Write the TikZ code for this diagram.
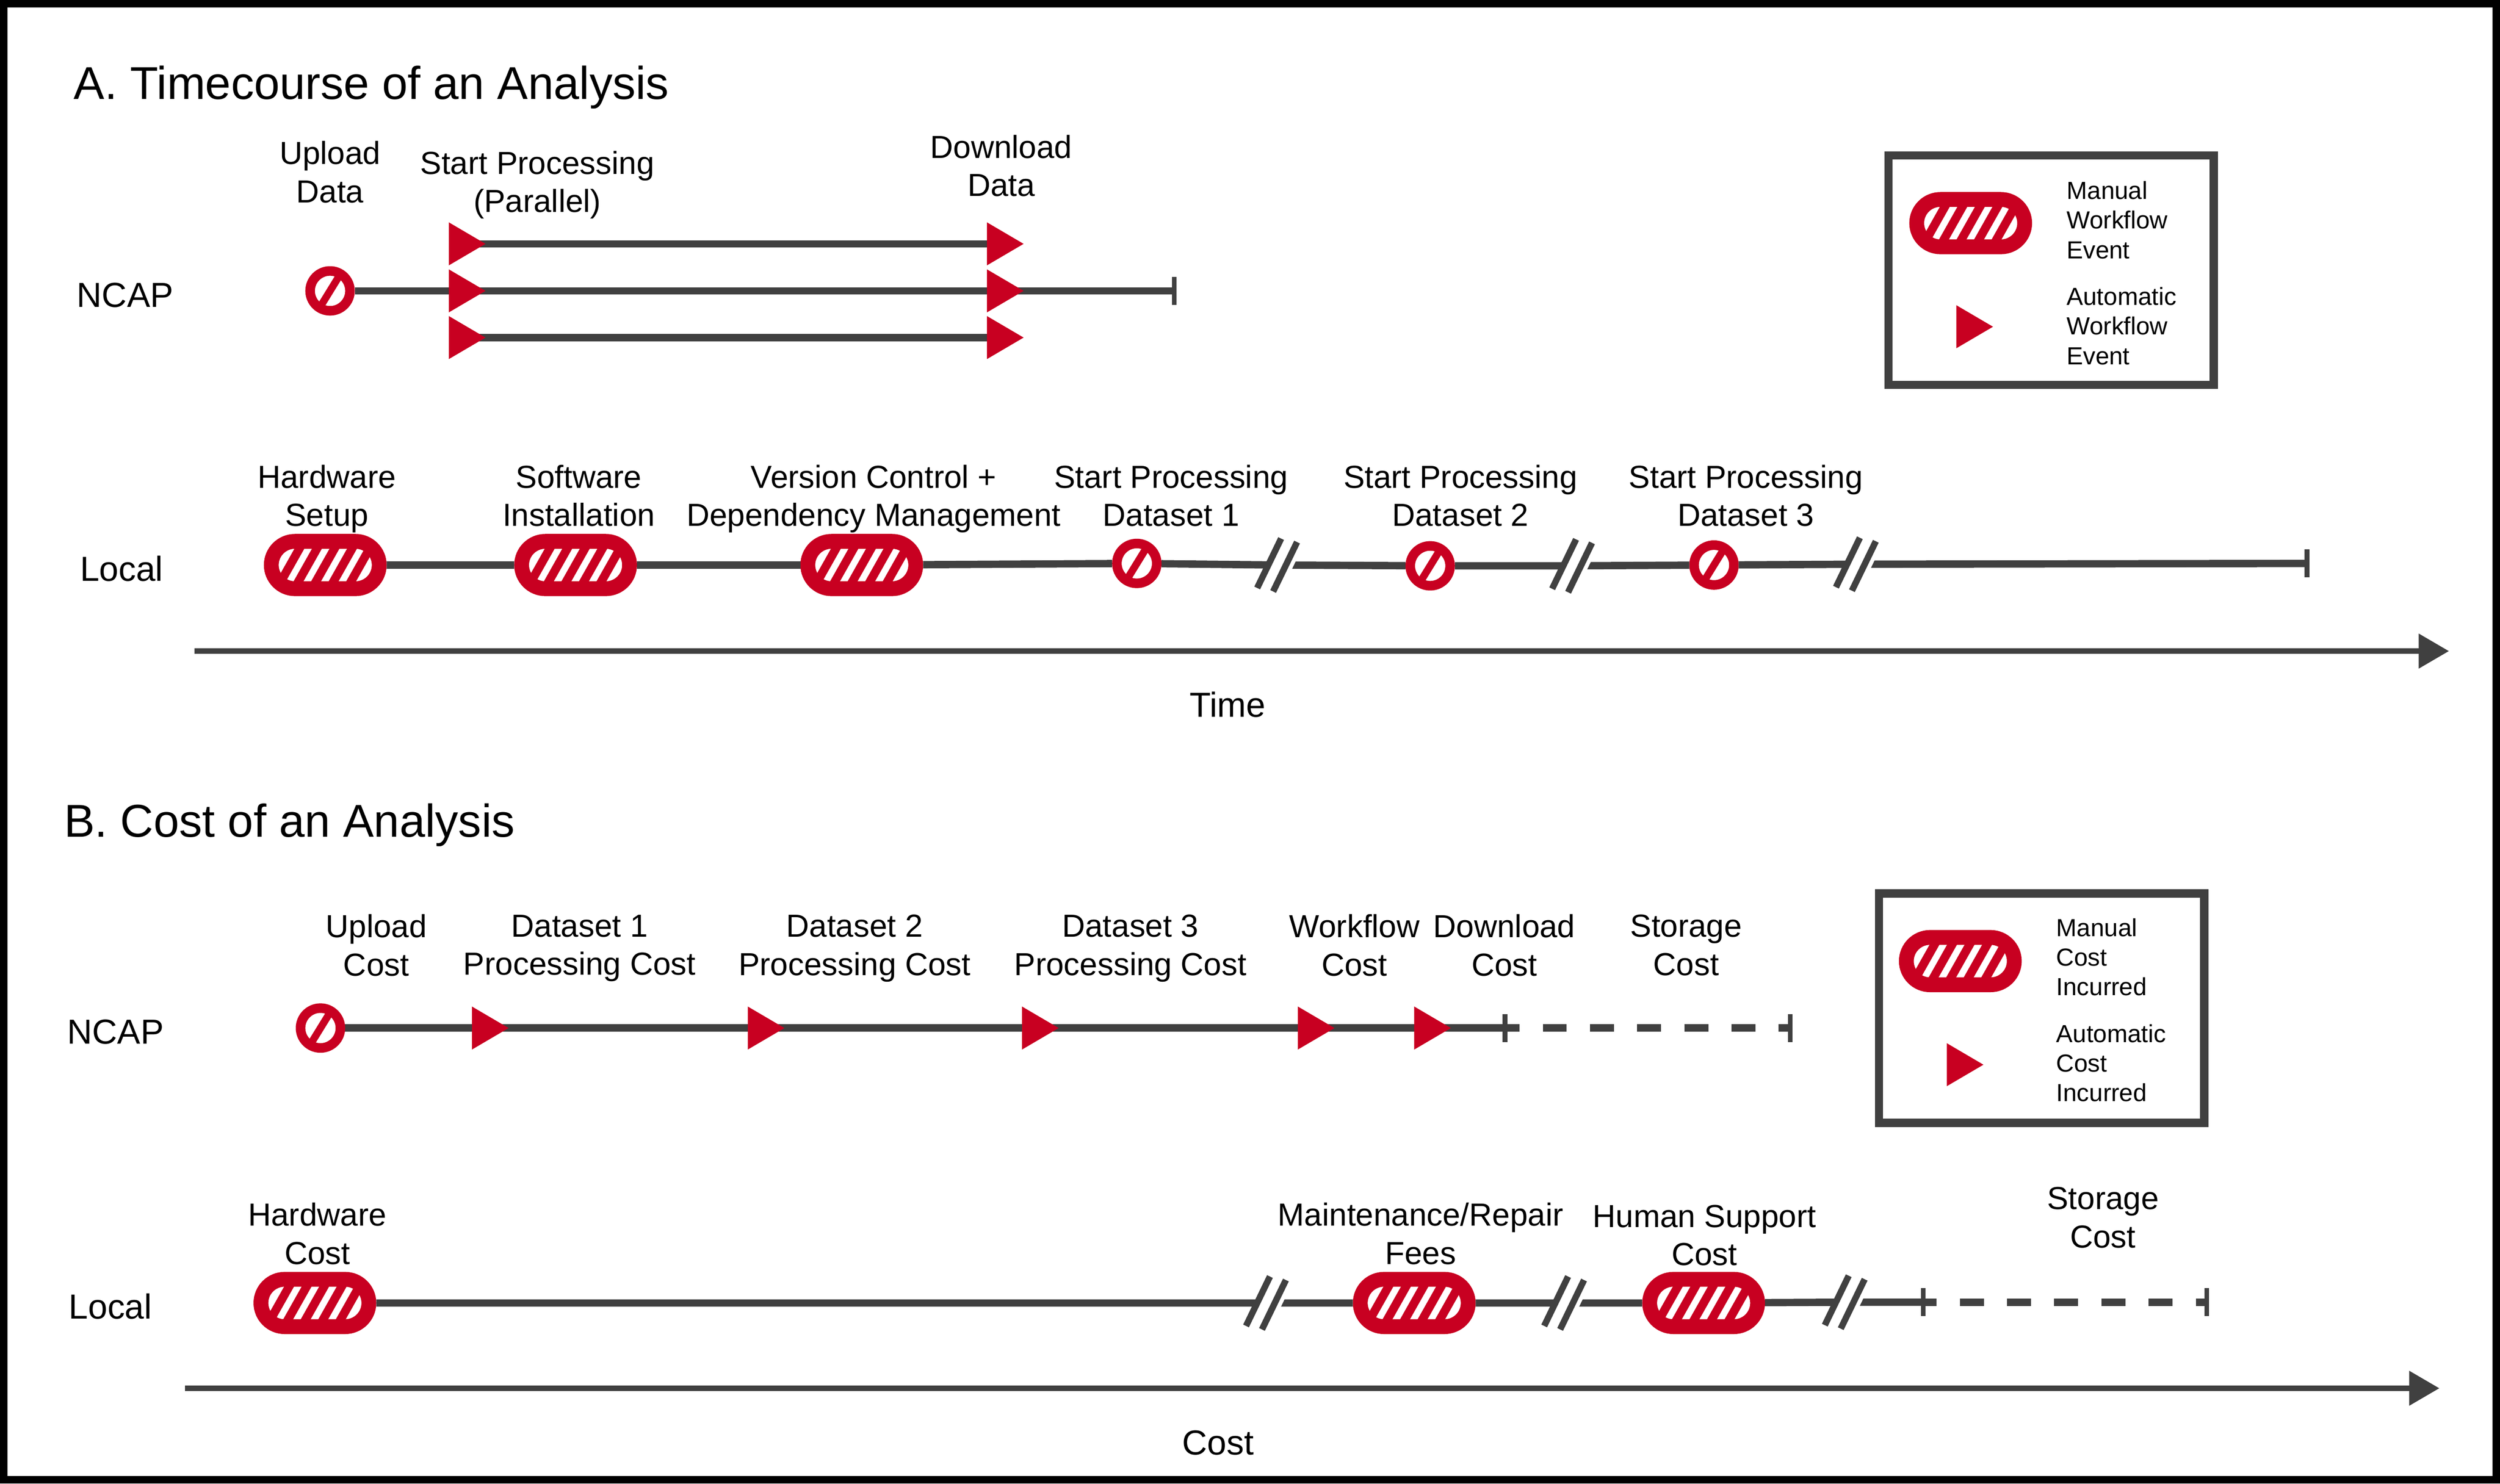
\documentclass[tikz,border=0pt]{standalone}
\usepackage{fontspec}
\setmainfont{Liberation Sans}
\definecolor{MainRed}{RGB}{200, 0, 33}
\definecolor{LineGray}{RGB}{64, 64, 64}
\usetikzlibrary{arrows.meta, positioning, backgrounds, shapes.geometric, shapes.misc}

\tikzset{
    timeline/.style={line width=4.6, LineGray},
    futureline/.style={line width=4.6, LineGray, dash pattern=on 15 off 14.6},
    axisline/.style={line width=3.6, LineGray, -{Triangle[length=19,width=21]}},
    legendbox/.style={draw=LineGray, line width=5.2, inner sep=0, minimum width=204, minimum height=144},
    eventlabel/.style={align=center, font=\fontsize{20}{24}\selectfont, inner sep=0},
    rowlabel/.style={anchor=base west, font=\fontsize{21.8}{26}\selectfont, inner sep=0},
    axislabel/.style={anchor=base, font=\fontsize{21.8}{26}\selectfont, inner sep=0},
    legendlabel/.style={anchor=west, align=left, font=\fontsize{15.5}{18.6}\selectfont, inner sep=0},
    paneltitle/.style={anchor=base west, font=\fontsize{28.9}{34}\selectfont, inner sep=0},
    autotri/.style={isosceles triangle, isosceles triangle stretches, fill=MainRed, inner sep=0, outer sep=0, minimum width=27, minimum height=23, anchor=lower side},
    endtick/.style={fill=LineGray, inner sep=0, minimum width=3, minimum height=17.6},
    manualdot/.style={circle, draw=MainRed, fill=white, line width=6, inner sep=0, minimum size=25,
        path picture={\fill[MainRed, shift={(path picture bounding box.center)}] (5.3,-13) -- (10.7,-13) -- (-5.3,13) -- (-10.7,13) -- cycle;}},
    manualpill/.style={rounded rectangle, rounded rectangle arc length=180, draw=MainRed, fill=white, line width=9.3, inner sep=0, minimum width=67.7, minimum height=29.7,
        path picture={\foreach \s in {-22,-11,0,11,22} {
            \fill[MainRed, shift={(path picture bounding box.center)}] (\s+3.1,-11) -- (\s+9.3,-11) -- (\s-3.1,11) -- (\s-9.3,11) -- cycle;
        }}},
    axisbreak/.pic={
        \fill[white] (2.5,-16.6) -- (17.5,-14.4) -- (2.5,16.6) -- (-12.5,14.4) -- cycle;
        \draw[line width=4, LineGray] (2.5,-16.6) -- (-12.5,14.4);
        \draw[line width=4, LineGray] (12.5,-14.4) -- (-2.5,16.6);
    }
}

\begin{document}
\begin{tikzpicture}[x=1pt, y=-1pt]
    \useasboundingbox (0,0) rectangle (1568,930.8);
    \draw[black, line width=4.7] (2.35,2.35) rectangle (1565.65,928.45);

    % Panel and row titles
    \node[paneltitle] (titleA) at (46.2,62.2) {A. Timecourse of an Analysis};
    \node[paneltitle] (titleB) at (40,525) {B. Cost of an Analysis};
    \node[rowlabel] (ncapA) at (48,192.7) {NCAP};
    \node[rowlabel] (localA) at (50,364.7) {Local};
    \node[rowlabel] (ncapB) at (42,655) {NCAP};
    \node[rowlabel] (localB) at (43,827.5) {Local};

    % Event labels
    \node[eventlabel] (lblUp) at (207,108) {Upload\\Data};
    \node[eventlabel] (lblPar) at (337,116) {Start Processing\\(Parallel)};
    \node[eventlabel] (lblDown) at (628,104) {Download\\Data};
    \node[eventlabel] (lblHw) at (205,313) {Hardware\\Setup};
    \node[eventlabel] (lblSw) at (363,311) {Software\\Installation};
    \node[eventlabel] (lblVc) at (548,313) {Version Control +\\Dependency Management};
    \node[eventlabel] (lblDa) at (734.5,311) {Start Processing\\Dataset 1};
    \node[eventlabel] (lblDb) at (916,311) {Start Processing\\Dataset 2};
    \node[eventlabel] (lblDc) at (1095,311) {Start Processing\\Dataset 3};
    \node[eventlabel] (lblUpc) at (236,593) {Upload\\Cost};
    \node[eventlabel] (lblPa) at (363.5,595) {Dataset 1\\Processing Cost};
    \node[eventlabel] (lblPb) at (536,595) {Dataset 2\\Processing Cost};
    \node[eventlabel] (lblPc) at (709,595) {Dataset 3\\Processing Cost};
    \node[eventlabel] (lblWf) at (849.5,593) {Workflow\\Cost};
    \node[eventlabel] (lblDown) at (943.5,593) {Download\\Cost};
    \node[eventlabel] (lblSc) at (1057.5,593) {Storage\\Cost};
    \node[eventlabel] (lblHc) at (199,774) {Hardware\\Cost};
    \node[eventlabel] (lblMr) at (891,774) {Maintenance/Repair\\Fees};
    \node[eventlabel] (lblHs) at (1069,775) {Human Support\\Cost};
    \node[eventlabel] (lblSl) at (1319,764) {Storage\\Cost};
    \node[axislabel] (lblTime) at (770,449.7) {Time};
    \node[axislabel] (lblCost) at (764,912.7) {Cost};

    % A: NCAP row
    \node[manualdot] (upData) at (207,182.5) {};
    \foreach \n/\x/\y in {startA/281.5/153, startB/281.5/182.5, startC/281.5/211.8, downA/619/153, downB/619/182.5, downC/619/211.8} {
        \node[autotri] (\n) at (\x,\y) {};
    }
    \node[endtick] (tickA) at (736.5,182.5) {};
    \begin{scope}[on background layer]
        \draw[timeline] (upData) -- (startB.center);
        \draw[timeline] (startA.center) -- (downA.center);
        \draw[timeline] (startB.center) -- (downB.center);
        \draw[timeline] (startC.center) -- (downC.center);
        \draw[timeline] (downB.center) -- (tickA.center);
    \end{scope}

    % A: Local row
    \foreach \n/\x in {hwSetup/204, swInstall/361, verCtl/540.5} {
        \node[manualpill] (\n) at (\x,354.5) {};
    }
    \foreach \n/\x/\y in {runA/713/353.5, runB/897/355, runC/1075/354.5} {
        \node[manualdot] (\n) at (\x,\y) {};
    }
    \coordinate (brkA) at (801,354.5);
    \coordinate (brkB) at (986,355);
    \coordinate (brkC) at (1164,354);
    \node[endtick] (tickB) at (1447,353.5) {};
    \draw[timeline] (hwSetup) -- (swInstall);
    \draw[timeline] (swInstall) -- (verCtl);
    \draw[timeline] (verCtl) -- (runA);
    \draw[timeline] (runA) -- (brkA) -- (runB) -- (brkB) -- (runC) -- (brkC) -- (tickB.center);
    \foreach \b in {brkA, brkB, brkC} {
        \pic at (\b) {axisbreak};
    }

    % Time axis
    \coordinate (timeL) at (122,408.5);
    \coordinate (timeR) at (1536,408.5);
    \draw[axisline] (timeL) -- (timeR);

    % Legend of panel A
    \node[legendbox] (legA) at (1286.5,169.5) {};
    \node[manualpill] (legPillA) at (1236,140) {};
    \node[autotri] (legTriA) at (1227,205) {};
    \node[legendlabel] (legManA) at (1296,138) {Manual\\Workflow\\Event};
    \node[legendlabel] (legAutoA) at (1296,204.5) {Automatic\\Workflow\\Event};

    % B: NCAP row
    \node[manualdot] (upCost) at (201,645) {};
    \foreach \n/\x in {costA/296, costB/469, costC/641, costD/814, costE/887} {
        \node[autotri] (\n) at (\x,645) {};
    }
    \node[endtick] (tickC) at (944,645) {};
    \node[endtick] (tickD) at (1122.8,645) {};
    \begin{scope}[on background layer]
        \draw[timeline] (upCost) -- (costA.center);
        \draw[timeline] (costA.center) -- (costB.center);
        \draw[timeline] (costB.center) -- (costC.center);
        \draw[timeline] (costC.center) -- (costD.center);
        \draw[timeline] (costD.center) -- (costE.center);
        \draw[timeline] (costE.center) -- (tickC.center);
        \draw[futureline, dash phase=6] (tickC.center) -- (tickD.center);
    \end{scope}

    % B: Local row
    \foreach \n/\x in {hwCost/197.5, mrFees/887, hsCost/1068.5} {
        \node[manualpill] (\n) at (\x,817.5) {};
    }
    \coordinate (brkD) at (794,817.5);
    \coordinate (brkE) at (981,817.5);
    \coordinate (brkF) at (1157,817);
    \node[endtick] (tickE) at (1206.3,817) {};
    \node[endtick] (tickF) at (1384,817) {};
    \draw[timeline] (hwCost) -- (brkD) -- (mrFees);
    \draw[timeline] (mrFees) -- (brkE) -- (hsCost);
    \draw[timeline] (hsCost) -- (brkF) -- (tickE.center);
    \draw[futureline, dash phase=6.7] (tickE.center) -- (tickF.center);
    \foreach \b in {brkD, brkE, brkF} {
        \pic at (\b) {axisbreak};
    }

    % Cost axis
    \coordinate (costL) at (116,871);
    \coordinate (costR) at (1530,871);
    \draw[axisline] (costL) -- (costR);

    % Legend of panel B
    \node[legendbox] (legB) at (1280.5,632.5) {};
    \node[manualpill] (legPillB) at (1229.5,603) {};
    \node[autotri] (legTriB) at (1221,668) {};
    \node[legendlabel] (legManB) at (1289.5,600.5) {Manual\\Cost\\Incurred};
    \node[legendlabel] (legAutoB) at (1289.5,667) {Automatic\\Cost\\Incurred};
\end{tikzpicture}
\end{document}
